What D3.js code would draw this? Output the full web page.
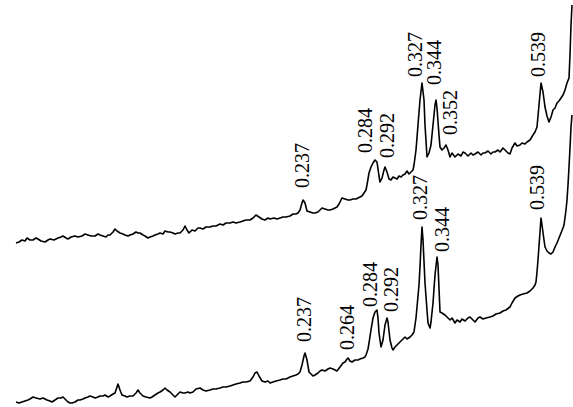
<!doctype html>
<html>
<head>
<meta charset="utf-8">
<script src="https://d3js.org/d3.v7.min.js"></script>
<style>
  body { margin: 0; background: #fff; }
  svg { display: block; }
  .peak { font-family: "Liberation Serif", "Times New Roman", Times, serif; font-size: 20px; }
</style>
</head>
<body>
<div id="chart"></div>
<script>
// upper pattern: [position, intensity]
var topTrace = [
  [16,167],[19,168],[22,170],[25,169],[27,172],[30,170],[33,170],[36,172],[38,171],[41,169],
  [45,168],[48,170],[50,171],[54,170],[58,172],[61,173],[63,174],[66,172],[68,171],[71,173],
  [75,174],[78,173],[82,174],[85,176],[88,175],[91,174],[95,174],[98,176],[100,175],[103,174],
  [106,173],[108,175],[110,175],[113,178],[115,181],[117,179],[120,177],[123,176],[125,175],[128,174],
  [130,175],[133,176],[136,178],[138,177],[140,177],[143,175],[145,174],[148,172],[150,173],[153,174],
  [155,175],[158,176],[160,177],[163,176],[165,179],[168,178],[170,178],[173,177],[175,176],[178,177],
  [180,177],[183,180],[185,184],[187,180],[189,177],[192,180],[195,179],[198,182],[200,182],[203,181],
  [206,183],[210,183],[213,184],[216,184],[220,186],[223,185],[226,187],[230,187],[233,188],[236,187],
  [240,188],[243,189],[246,190],[250,190],[253,192],[256,195],[259,193],[262,191],[265,190],[268,192],
  [270,191],[274,192],[277,191],[280,192],[283,193],[286,193],[290,194],[293,196],[296,196],[298,197],
  [300,200],[302,207],[303,210],[305,207],[307,199],[310,198],[313,197],[315,197],[318,198],[320,200],
  [322,202],[325,201],[328,200],[330,200],[333,201],[335,202],[337,203],[339,206],[342,212],[345,211],
  [348,210],[350,210],[353,211],[356,211],[358,212],[360,213],[362,214],[364,217],[366,220],[367,225],
  [369,237],[371,243],[373,247],[375,250],[377,248],[379,234],[380,228],[382,232],[384,240],[385,243],
  [387,238],[389,231],[391,230],[393,233],[395,232],[397,231],[399,234],[401,233],[403,235],[405,236],
  [407,239],[409,236],[411,238],[413,240],[414,245],[416,260],[418,285],[420,310],[422,327],[424,310],
  [425,285],[427,253],[429,257],[431,265],[433,285],[435,305],[436,310],[437,302],[439,275],[440,263],
  [442,260],[444,262],[446,265],[448,260],[450,253],[452,257],[455,253],[458,256],[461,254],[463,258],
  [465,257],[468,254],[471,257],[473,255],[475,256],[478,258],[481,255],[483,257],[485,257],[488,259],
  [491,256],[493,258],[495,258],[498,260],[500,258],[503,262],[505,260],[508,257],[510,256],[512,262],
  [515,267],[517,264],[520,265],[522,267],[525,266],[527,268],[530,270],[533,275],[535,278],[537,283],
  [539,305],[541,327],[543,318],[545,303],[547,294],[549,288],[551,293],[553,300],[555,302],[557,307],
  [559,309],[561,312],[563,315],[565,320],[567,327],[569,332],[570,355],[571,385],[572,405]
];

// lower pattern: [position, intensity]
var bottomTrace = [
  [16,8],[19,7],[22,8],[25,9],[28,10],[30,11],[33,13],[36,12],[40,11],[43,12],
  [47,10],[50,9],[52,8],[55,10],[58,12],[61,12],[63,13],[66,10],[68,8],[70,7],
  [72,7],[75,8],[78,10],[80,10],[83,11],[85,12],[88,13],[90,14],[93,13],[95,12],
  [98,13],[100,14],[103,14],[105,15],[108,13],[110,14],[113,16],[115,17],[117,23],[118,26],
  [120,20],[122,15],[125,14],[127,13],[130,14],[133,14],[136,17],[138,20],[140,17],[143,14],
  [146,13],[150,12],[152,13],[155,15],[158,17],[160,18],[163,20],[165,22],[167,20],[170,18],
  [172,16],[175,13],[177,15],[180,18],[183,17],[185,17],[188,18],[190,17],[193,18],[196,21],
  [200,22],[203,20],[206,19],[210,20],[213,21],[216,21],[220,22],[223,23],[226,23],[230,24],
  [233,25],[236,26],[240,27],[243,28],[246,28],[250,29],[253,33],[255,37],[257,38],[259,34],
  [262,29],[265,28],[268,29],[270,27],[273,28],[276,29],[280,30],[283,31],[286,31],[290,33],
  [293,34],[296,35],[298,36],[300,38],[302,45],[304,54],[305,57],[307,50],[309,38],[311,36],
  [313,34],[315,35],[318,37],[320,39],[322,40],[325,39],[328,41],[330,42],[333,41],[335,40],
  [337,39],[340,43],[343,47],[345,48],[347,51],[348,52],[350,49],[352,48],[355,50],[358,50],
  [360,51],[363,52],[365,53],[366,55],[368,61],[369,67],[371,80],[373,92],[375,98],[377,100],
  [378,92],[379,77],[381,63],[383,70],[385,85],[387,92],[388,88],[390,70],[392,62],[393,60],
  [395,63],[398,66],[400,68],[402,70],[405,73],[407,71],[410,73],[412,75],[414,78],[416,92],
  [417,103],[419,125],[420,143],[421,165],[422,183],[423,170],[425,127],[427,100],[428,87],[430,82],
  [431,88],[433,107],[435,135],[437,153],[438,145],[440,98],[442,97],[445,95],[447,93],[450,90],
  [452,92],[455,87],[457,90],[460,88],[462,91],[465,89],[468,92],[470,93],[473,90],[475,88],
  [478,92],[480,93],[483,91],[486,92],[490,93],[493,94],[496,96],[500,97],[503,99],[506,100],
  [510,103],[512,107],[515,112],[518,114],[520,115],[523,116],[527,117],[530,119],[533,122],[535,125],
  [536,128],[537,138],[538,150],[540,178],[541,192],[542,185],[544,170],[545,163],[547,159],[549,157],
  [551,156],[553,158],[555,163],[557,167],[559,172],[561,177],[563,182],[564,185],[566,200],[567,210],
  [568,225],[569,243],[570,262],[571,283],[572,295]
];

// peak labels (d-spacing, nm): text, position, intensity where the label starts
var topLabels = ["0.237", "0.284", "0.292", "0.327", "0.344", "0.352", "0.539"];
var topLabelX = [309, 372, 394, 422, 441, 457, 545];
var topLabelY = [222, 257, 252, 333, 325, 275, 333];

var bottomLabels = ["0.237", "0.264", "0.284", "0.292", "0.327", "0.344", "0.539"];
var bottomLabelX = [311, 354, 377, 398, 427, 449, 544];
var bottomLabelY = [68, 60, 103, 98, 190, 158, 200];

var width = 573, height = 407;

var svg = d3.select("#chart").append("svg")
  .attr("width", width)
  .attr("height", height);

var x = d3.scaleLinear().domain([0, 573]).range([0, 573]);
var y = d3.scaleLinear().domain([0, 410]).range([410, 0]);

var line = d3.line()
  .x(function(d) { return x(d[0]); })
  .y(function(d) { return y(d[1]); });

[topTrace, bottomTrace].forEach(function(tr) {
  svg.append("path")
    .datum(tr)
    .attr("d", line)
    .attr("fill", "none")
    .attr("stroke", "#000")
    .attr("stroke-width", 1.6)
    .attr("stroke-linejoin", "round");
});

function drawLabels(texts, xs, ys) {
  svg.append("g").selectAll("text")
    .data(texts)
    .enter().append("text")
    .attr("class", "peak")
    .attr("transform", function(d, i) {
      return "translate(" + x(xs[i]) + "," + y(ys[i]) + ") rotate(-90)";
    })
    .attr("fill", "#000")
    .text(function(d) { return d; });
}

drawLabels(topLabels, topLabelX, topLabelY);
drawLabels(bottomLabels, bottomLabelX, bottomLabelY);
</script>
</body>
</html>
